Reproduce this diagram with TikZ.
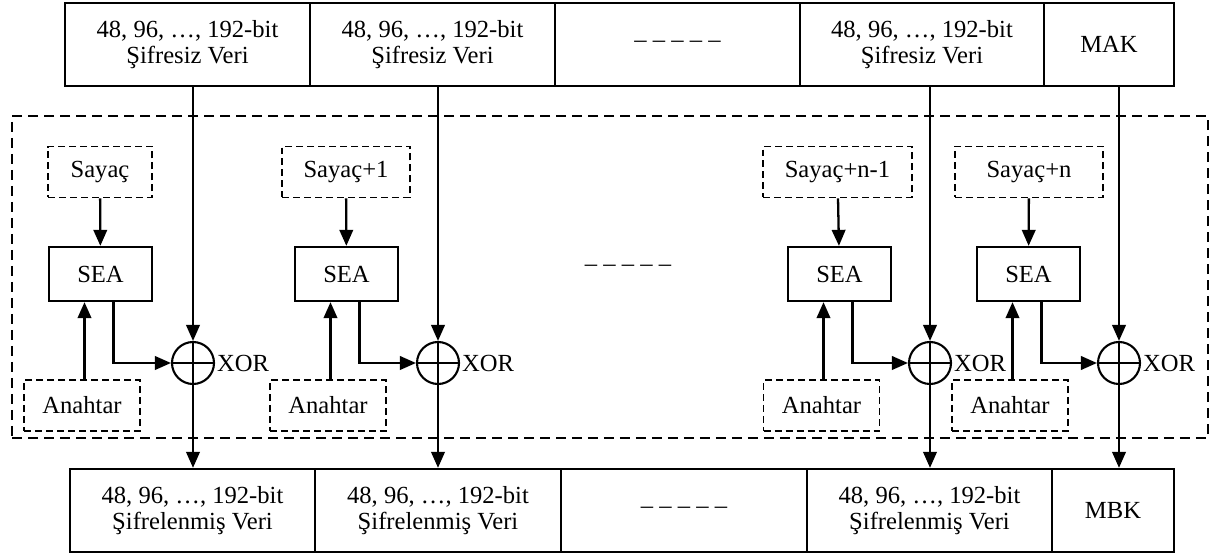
\documentclass[tikz,border=0pt]{standalone}
\usepackage{fontspec}
\setmainfont{Liberation Serif}
\usetikzlibrary{arrows.meta,positioning,calc}

\begin{document}
\begin{tikzpicture}[x=0.02cm, y=-0.02cm,
  font=\fontsize{14}{14.8}\selectfont,
  blk/.style={draw, line width=1.3pt, minimum height=1.66cm, inner sep=0pt, align=center},
  sea/.style={draw, line width=1.3pt, minimum width=2.06cm, minimum height=1.08cm, inner sep=0pt},
  ctr/.style={draw, line width=0.9pt, dash pattern=on 0.14cm off 0.08cm, minimum height=1.02cm, inner sep=0pt},
  frame/.style={draw, line width=1.3pt, dash pattern=on 0.2cm off 0.12cm, minimum width=23.92cm, minimum height=6.44cm, inner sep=0pt},
  xr/.style={circle, draw, line width=1.2pt, minimum size=0.84cm, inner sep=0pt,
    path picture={\draw[line width=1.2pt] (path picture bounding box.north) -- (path picture bounding box.south)
      (path picture bounding box.west) -- (path picture bounding box.east);}},
  arr/.style={line width=1.3pt, -{Triangle[length=0.32cm,width=0.27cm]}},
  lab/.style={inner sep=1pt}]
  \useasboundingbox (0,0) rectangle (1210,553);
  % dashed frame round the counter blocks
  \node[frame] (box) at (610,277) {};
  % plain data row
  \node[blk, minimum width=4.9cm] (t1) at (187.5,44.5) {48, 96, …, 192-bit\\Şifresiz Veri};
  \node[blk, minimum width=4.9cm] (t2) at (432.5,44.5) {48, 96, …, 192-bit\\Şifresiz Veri};
  \node[blk, minimum width=4.9cm] (t3) at (677.5,44.5) {– – – – –};
  \node[blk, minimum width=4.88cm] (t4) at (922,44.5) {48, 96, …, 192-bit\\Şifresiz Veri};
  \node[blk, minimum width=2.6cm] (mak) at (1109,44.5) {MAK};
  % cipher data row
  \node[blk, minimum width=4.9cm] (b1) at (192.5,510.5) {48, 96, …, 192-bit\\Şifrelenmiş Veri};
  \node[blk, minimum width=4.92cm] (b2) at (438,510.5) {48, 96, …, 192-bit\\Şifrelenmiş Veri};
  \node[blk, minimum width=4.92cm] (b3) at (684,510.5) {– – – – –};
  \node[blk, minimum width=4.9cm] (b4) at (929.5,510.5) {48, 96, …, 192-bit\\Şifrelenmiş Veri};
  \node[blk, minimum width=2.44cm] (mbk) at (1113,510.5) {MBK};
  \node (gap) at (628,268) {– – – – –};
  % one column per counter
  \foreach \i/\sx/\sw/\ex/\ax/\xx/\src/\dst/\lbl in {
      1/100/2.08cm/100.5/82/193/t1/b1/Sayaç,
      2/346/2.56cm/346.5/328/438/t2/b2/Sayaç+1,
      3/837.5/2.98cm/839.5/821.5/930/t4/b4/Sayaç+n-1,
      4/1029/2.96cm/1028.5/1010/1119/mak/mbk/Sayaç+n} {
    \node[ctr, minimum width=\sw] (sayac\i) at (\sx,172) {\lbl};
    \node[sea] (sea\i) at (\ex,274) {SEA};
    \node[ctr, minimum width=2.32cm] (key\i) at (\ax,405.5) {Anahtar};
    \node[xr] (xor\i) at (\xx,363) {};
    \node[lab, right=0pt of xor\i] (xl\i) {XOR};
    \coordinate (in\i) at ($(sea\i.south)+(-16,0)$);
    \coordinate (out\i) at ($(sea\i.south)+(13,0)$);
    \draw[arr] (sayac\i) -- (sea\i);
    \draw[arr] (in\i |- key\i.north) -- (in\i);
    \draw[arr] (out\i) |- (xor\i);
    \draw[arr] (\src.south -| xor\i) -- (xor\i);
    \draw[arr] (xor\i) -- (xor\i |- \dst.north);
  }
\end{tikzpicture}
\end{document}
